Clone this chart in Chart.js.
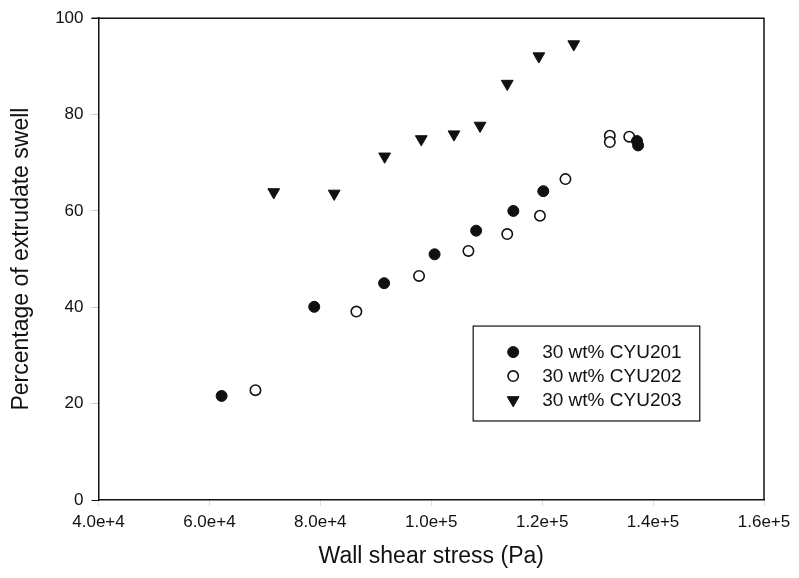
<!DOCTYPE html>
<html>
<head>
<meta charset="utf-8">
<script src="https://cdn.jsdelivr.net/npm/chart.js@4.4.1/dist/chart.umd.min.js"></script>
<style>
  html, body { margin: 0; padding: 0; background: #fff; }
</style>
</head>
<body>
<canvas id="myChart" width="799" height="578"></canvas>
<script>
// wall shear stress (Pa) vs. extrudate swell (%)
const seriesNames = ["30 wt% CYU201", "30 wt% CYU202", "30 wt% CYU203"];

const shear201 = [62200, 78900, 91500, 100600, 108100, 114800, 120200, 137100, 137300];
const swell201 = [21.6, 40.1, 45.0, 51.0, 55.9, 60.0, 64.1, 74.5, 73.6];

const shear202 = [68300, 86500, 97800, 106700, 113700, 119600, 124200, 132200, 132200, 135700];
const swell202 = [22.8, 39.1, 46.5, 51.7, 55.2, 59.0, 66.6, 75.6, 74.3, 75.4];

const shear203 = [71600, 82500, 91600, 98200, 104100, 108800, 113700, 119400, 125700];
const swell203 = [63.9, 63.6, 71.3, 74.9, 75.9, 77.7, 86.4, 92.1, 94.6];

const xTicks = [40000, 60000, 80000, 100000, 120000, 140000, 160000];
const yTicks = [0, 20, 40, 60, 80, 100];

const pairs = (xs, ys) => xs.map((x, i) => ({ x: x, y: ys[i] }));

// top and right edges of the plot box
const frame = {
  id: 'frame',
  afterDraw(chart) {
    const { ctx, chartArea: a } = chart;
    ctx.save();
    ctx.strokeStyle = '#111';
    ctx.lineWidth = 1.5;
    ctx.beginPath();
    ctx.moveTo(a.left - 7, a.top);
    ctx.lineTo(a.right, a.top);
    ctx.lineTo(a.right, a.bottom);
    ctx.stroke();
    ctx.restore();
  }
};

// boxed legend sitting inside the plot
const boxLegend = {
  id: 'boxLegend',
  afterDraw(chart) {
    const { ctx, chartArea: a } = chart;
    const w = a.right - a.left, h = a.bottom - a.top;
    const x0 = a.left + w * 0.563, x1 = a.left + w * 0.9035;
    const y0 = a.top + h * 0.639, y1 = a.top + h * 0.836;
    ctx.save();
    ctx.strokeStyle = '#111';
    ctx.lineWidth = 1.2;
    ctx.strokeRect(x0, y0, x1 - x0, y1 - y0);
    ctx.font = '19px "Liberation Sans", Arial, sans-serif';
    ctx.textBaseline = 'middle';
    ctx.textAlign = 'left';
    chart.data.datasets.forEach((ds, i) => {
      const y = y0 + 26 + i * 24;
      ctx.fillStyle = ds.backgroundColor;
      ctx.strokeStyle = ds.borderColor;
      ctx.lineWidth = ds.borderWidth;
      Chart.helpers.drawPoint(ctx, {
        pointStyle: ds.pointStyle,
        radius: ds.pointRadius,
        rotation: ds.pointRotation || 0,
        borderWidth: ds.borderWidth
      }, x0 + 40, y);
      ctx.fillStyle = '#111';
      ctx.fillText(ds.label, x0 + 69, y + 1);
    });
    ctx.restore();
  }
};

const ctx = document.getElementById('myChart').getContext('2d');
new Chart(ctx, {
  type: 'scatter',
  data: {
    datasets: [
      {
        label: seriesNames[0],
        data: pairs(shear201, swell201),
        pointStyle: 'circle',
        pointRadius: 5.5,
        backgroundColor: '#111',
        borderColor: '#111',
        borderWidth: 1
      },
      {
        label: seriesNames[1],
        data: pairs(shear202, swell202),
        pointStyle: 'circle',
        pointRadius: 5.2,
        backgroundColor: '#fff',
        borderColor: '#111',
        borderWidth: 1.6
      },
      {
        label: seriesNames[2],
        data: pairs(shear203, swell203),
        pointStyle: 'triangle',
        pointRotation: 180,
        pointRadius: 6.8,
        backgroundColor: '#111',
        borderColor: '#111',
        borderWidth: 1
      }
    ]
  },
  options: {
    responsive: false,
    animation: false,
    events: [],
    layout: { padding: { left: 0, top: 18, right: 35, bottom: 0 } },
    plugins: {
      legend: { display: false },
      tooltip: { enabled: false }
    },
    scales: {
      x: {
        type: 'linear',
        min: 40000,
        max: 160000,
        afterBuildTicks: (axis) => { axis.ticks = xTicks.map(v => ({ value: v })); },
        afterFit: (axis) => { axis.height = 78; },
        border: { color: '#111', width: 1.5 },
        grid: { drawOnChartArea: false, color: '#ddd', tickLength: 6 },
        ticks: {
          color: '#111',
          padding: 6,
          maxRotation: 0,
          font: { family: '"Liberation Sans", Arial, sans-serif', size: 17 },
          callback: (v) => v.toExponential(1)
        },
        title: {
          display: true,
          text: 'Wall shear stress (Pa)',
          color: '#111',
          padding: { top: 0, bottom: 8 },
          font: { family: '"Liberation Sans", Arial, sans-serif', size: 23 }
        }
      },
      y: {
        type: 'linear',
        min: 0,
        max: 100,
        afterBuildTicks: (axis) => { axis.ticks = yTicks.map(v => ({ value: v })); },
        afterFit: (axis) => { axis.width = 98.5; },
        border: { color: '#111', width: 1.5 },
        grid: {
          drawOnChartArea: false,
          tickLength: 7,
          color: (c) => (c.tick && (c.tick.value === 0 || c.tick.value === 100)) ? '#111' : '#ccc'
        },
        ticks: {
          color: '#111',
          padding: 8,
          font: { family: '"Liberation Sans", Arial, sans-serif', size: 17 }
        },
        title: {
          display: true,
          text: 'Percentage of extrudate swell',
          color: '#111',
          padding: { top: 8, bottom: 0 },
          font: { family: '"Liberation Sans", Arial, sans-serif', size: 23 }
        }
      }
    }
  },
  plugins: [frame, boxLegend]
});
</script>
</body>
</html>
